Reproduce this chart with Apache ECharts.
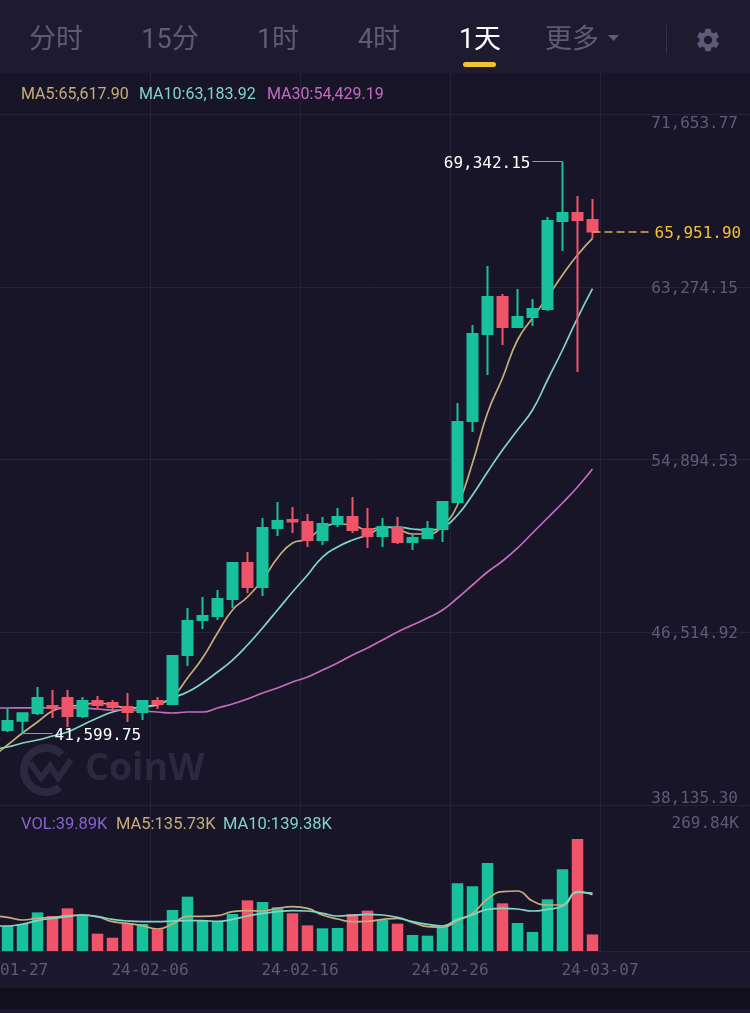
<!DOCTYPE html>
<html>
<head>
<meta charset="utf-8">
<style>
  html, body { margin: 0; padding: 0; background: #181528; }
  #chart { width: 750px; height: 1013px; }
</style>
<script src="https://cdn.jsdelivr.net/npm/echarts@6/dist/echarts.min.js"></script>
</head>
<body>
<div id="chart"></div>
<script>
// the first row is the day just left of the screen, only its MA lines reach the edge
const dates = [
  '24-01-27', '24-01-28', '24-01-29', '24-01-30', '24-01-31', '24-02-01', '24-02-02', '24-02-03', '24-02-04', '24-02-05',
  '24-02-06', '24-02-07', '24-02-08', '24-02-09', '24-02-10', '24-02-11', '24-02-12', '24-02-13', '24-02-14', '24-02-15',
  '24-02-16', '24-02-17', '24-02-18', '24-02-19', '24-02-20', '24-02-21', '24-02-22', '24-02-23', '24-02-24', '24-02-25',
  '24-02-26', '24-02-27', '24-02-28', '24-02-29', '24-03-01', '24-03-02', '24-03-03', '24-03-04', '24-03-05', '24-03-06',
  '24-03-07'
]
const dateTicks = ['24-01-27', '24-02-06', '24-02-16', '24-02-26', '24-03-07']
const priceTicks = [38135.30, 46514.92, 54894.53, 63274.15, 71653.77]
const volTopLabel = '269.84K'
const volAxisMax = 351.7

// open, close, low, high
const candles = [
  ['-', '-', '-', '-'],
  [41772.9, 42209.4, 41675.8, 42840.0],
  [42224.0, 42582.9, 41599.75, 42597.5],
  [42597.5, 43325.1, 42500.5, 43858.7],
  [42937.1, 42840.0, 42355.0, 43713.2],
  [43325.1, 42452.0, 41918.4, 43713.2],
  [42452.0, 43179.6, 42355.0, 43373.6],
  [43179.6, 42985.6, 42791.5, 43422.1],
  [43082.6, 42888.5, 42694.5, 43228.1],
  [42888.5, 42646.0, 42160.9, 43567.7],
  [42646.0, 43179.6, 42257.9, 43179.6],
  [43179.6, 43034.1, 42791.5, 43373.6],
  [43034.1, 45362.5, 42985.6, 45362.5],
  [45411.0, 47060.2, 44877.4, 47690.8],
  [47108.7, 47302.8, 46672.2, 48224.4],
  [47302.8, 48127.4, 47108.7, 48564.0],
  [48127.4, 49873.7, 47690.8, 49922.2],
  [49873.7, 48709.5, 48418.5, 50407.3],
  [48709.5, 51571.5, 48272.9, 52056.6],
  [51571.5, 51911.0, 51183.4, 52832.7],
  [51959.5, 51886.8, 51328.9, 52590.1],
  [51862.5, 50989.4, 50649.8, 52250.6],
  [50989.4, 51765.5, 50746.8, 52105.1],
  [51765.5, 52105.1, 51620.0, 52541.6],
  [52105.1, 51474.5, 51328.9, 53075.2],
  [51523.0, 51183.4, 50601.3, 52541.6],
  [51183.4, 51620.0, 50649.8, 52056.6],
  [51571.5, 50892.4, 50795.3, 52105.1],
  [50892.4, 51086.4, 50504.3, 51328.9],
  [51086.4, 51523.0, 51086.4, 51911.0],
  [51523.0, 52832.7, 50892.4, 52832.7],
  [52832.7, 56713.3, 52832.7, 57635.0],
  [56761.8, 60982.0, 56228.2, 61418.6],
  [60982.0, 62776.8, 58993.2, 64280.6],
  [62776.8, 61321.6, 60448.4, 62922.3],
  [61321.6, 61806.7, 61321.6, 63164.9],
  [61806.7, 62194.7, 61370.1, 62679.8],
  [62194.7, 66463.4, 62097.7, 66657.5],
  [66463.4, 66851.5, 65008.2, 69342.15],
  [66851.5, 66511.9, 59138.7, 67676.1],
  [66511.9, 65951.90, 65638.8, 67530.6]
]
const ma5 = [
  40463.1, 41045.2, 41627.3, 42160.9, 42694.5, 42888.5, 42985.6, 43082.6, 42985.6, 42840.0,
  42888.5, 43034.1, 43373.6, 44295.3, 45265.4, 46478.1, 47593.8, 48224.4, 49049.1, 50116.2,
  50843.9, 51037.9, 51571.5, 51765.5, 51717.0, 51474.5, 51620.0, 51523.0, 51280.4, 51280.4,
  51668.5, 52687.2, 54724.5, 57149.9, 58847.7, 60691.0, 61758.1, 62776.8, 63844.0, 64814.2,
  65617.90
]
const ma10 = [
  40851.2, 40948.2, 41142.3, 41287.8, 41481.8, 41675.8, 42015.4, 42355.0, 42646.0, 42791.5,
  42888.5, 42985.6, 43325.1, 43616.2, 44052.7, 44586.3, 45168.4, 45896.0, 46720.7, 47593.8,
  48467.0, 49291.6, 50164.7, 50649.8, 50989.4, 51231.9, 51571.5, 51620.0, 51523.0, 51474.5,
  51620.0, 52202.1, 53172.2, 54287.9, 55355.1, 56325.3, 57295.4, 58750.7, 60205.9, 61758.1,
  63183.92
]
const ma30 = [
  42840.0, 42840.0, 42845.0, 42850.0, 42845.0, 42835.0, 42830.0, 42791.5, 42743.0, 42743.0,
  42694.5, 42646.0, 42597.5, 42646.0, 42646.0, 42840.0, 43034.1, 43276.6, 43567.7, 43810.2,
  44101.2, 44343.8, 44683.3, 45022.9, 45411.0, 45750.5, 46138.6, 46526.6, 46866.2, 47205.8,
  47593.8, 48175.9, 48806.5, 49437.1, 49970.7, 50601.3, 51328.9, 52056.6, 52784.2, 53560.3,
  54429.19
]
const volumes = [
  '-', 60.2, 65.0, 93.0, 84.3, 102.8, 84.3, 41.8, 32.0, 66.6,
  65.0, 52.2, 98.8, 130.9, 74.7, 70.7, 89.1, 122.0, 118.0, 105.2,
  90.8, 61.8, 54.6, 55.4, 89.1, 97.2, 74.7, 65.9, 38.5, 36.9,
  58.6, 163.0, 155.8, 212.0, 114.8, 67.5, 45.8, 124.5, 196.7, 269.84,
  39.89
]
const volMa5 = [
  85.1, 81.1, 74.7, 78.7, 81.1, 85.1, 86.7, 82.7, 70.7, 66.6,
  61.0, 53.0, 65.0, 83.5, 83.5, 85.1, 94.8, 97.2, 96.4, 102.8,
  106.8, 102.8, 86.7, 77.1, 70.7, 71.5, 76.3, 78.7, 69.1, 58.6,
  57.0, 73.1, 90.7, 125.3, 142.9, 144.5, 120.5, 110.8, 110.8, 142.9,
  135.73
]
const volMa10 = [
  60.2, 60.2, 65.0, 73.1, 78.7, 82.7, 86.7, 82.7, 76.3, 72.3,
  70.7, 70.7, 72.3, 73.1, 73.1, 71.5, 76.3, 84.3, 90.7, 94.8,
  97.2, 96.4, 90.7, 84.3, 85.9, 88.3, 86.7, 81.1, 70.7, 64.2,
  60.2, 76.3, 86.7, 100.4, 102.8, 101.2, 96.4, 100.4, 108.4, 141.3,
  139.38
]

const GREEN = '#17c19b'
const RED = '#ef5468'
const GRID = '#262339'
const MUTED = '#5f5b76'
const MA5_C = '#c8ad7a'
const MA10_C = '#7fd6c5'
const MA30_C = '#c56cc0'
const MONO = "'DejaVu Sans Mono', monospace"
const SANS = "Roboto, 'Noto Sans CJK SC', sans-serif"

const fmt = v => v.toLocaleString('en-US', { minimumFractionDigits: 2, maximumFractionDigits: 2 })
const isTick = (i, v) => dateTicks.indexOf(v) >= 0
// no line on the screen edge itself
const isGridTick = (i, v) => dateTicks.indexOf(v) > 0
// band axis: one slot per day, tick axis: one point per slot edge
const bandData = dates.concat(new Array(10).fill(''))
const edgeData = [''].concat(dates, new Array(10).fill(''))

const idxHigh = 38, idxLow = 2, idxLast = 40

// gear icon
echarts.graphic.registerShape('gear', echarts.graphic.extendPath(
  'M19.14 12.94c.04-.3.06-.61.06-.94 0-.32-.02-.64-.07-.94l2.03-1.58c.18-.14.23-.41.12-.61l-1.92-3.32c-.12-.22-.37-.29-.59-.22l-2.39.96c-.5-.38-1.03-.7-1.62-.94l-.36-2.54c-.04-.24-.24-.41-.48-.41h-3.84c-.24 0-.43.17-.47.41l-.36 2.54c-.59.24-1.13.57-1.62.94l-2.39-.96c-.22-.08-.47 0-.59.22L2.74 8.87c-.12.21-.08.47.12.61l2.03 1.58c-.05.3-.09.63-.09.94s.02.64.07.94l-2.03 1.58c-.18.14-.23.41-.12.61l1.92 3.32c.12.22.37.29.59.22l2.39-.96c.5.38 1.03.7 1.62.94l.36 2.54c.05.24.24.41.48.41h3.84c.24 0 .44-.17.47-.41l.36-2.54c.59-.24 1.13-.56 1.62-.94l2.39.96c.22.08.47 0 .59-.22l1.92-3.32c.12-.22.07-.47-.12-.61l-2.01-1.58zM12 15.6c-1.98 0-3.6-1.62-3.6-3.6s1.62-3.6 3.6-3.6 3.6 1.62 3.6 3.6-1.62 3.6-3.6 3.6z',
  {}
))

function text (str, x, y, size, color, align, family, weight) {
  return {
    type: 'text',
    z: 1,
    silent: true,
    style: {
      text: str, x: x, y: y, fill: color,
      font: (weight || 'normal') + ' ' + size + 'px ' + (family || SANS),
      align: align || 'left', verticalAlign: 'middle',
      textAlign: align || 'left', textVerticalAlign: 'middle'
    }
  }
}

function line (name, data, color, xIdx, yIdx) {
  return {
    name: name, type: 'line', data: data, xAxisIndex: xIdx, yAxisIndex: yIdx,
    smooth: true, showSymbol: false, silent: true, z: xIdx === 0 ? 2 : 4,
    lineStyle: { color: color, width: 1.7 }
  }
}

function leader (fromIdx, toIdx, value, label, color, dashed) {
  return [
    { coord: [fromIdx, value], lineStyle: { color: color, width: dashed ? 1.5 : 1, type: dashed ? [8, 4] : 'solid' } },
    { coord: [toIdx, value], label: { show: true, position: 'end', distance: 2, formatter: label, offset: [0, 2],
      color: dashed ? '#f2c230' : '#fff', fontFamily: MONO, fontSize: 16 } }
  ]
}

const option = {
  animation: false,
  backgroundColor: '#181528',
  graphic: [
    { type: 'rect', z: -1, silent: true, shape: { x: 0, y: 0, width: 750, height: 73 }, style: { fill: '#1e1b31' } },
    { type: 'rect', z: -1, silent: true, shape: { x: 0, y: 951, width: 750, height: 37 }, style: { fill: '#1c192f' } },
    { type: 'rect', z: -1, silent: true, shape: { x: 0, y: 988, width: 750, height: 21 }, style: { fill: '#110f1e' } },
    { type: 'rect', z: -1, silent: true, shape: { x: 0, y: 1009, width: 750, height: 4 }, style: { fill: '#1c192f' } },

    text('分时', 56, 41.5, 27, MUTED, 'center'),
    text('15分', 170, 41.5, 27, MUTED, 'center'),
    text('1时', 278, 41.5, 27, MUTED, 'center'),
    text('4时', 379, 41.5, 27, MUTED, 'center'),
    text('1天', 480, 41.5, 27, '#ffffff', 'center'),
    text('更多', 572, 41.5, 27, MUTED, 'center'),
    { type: 'polygon', z: 1, silent: true, shape: { points: [[608, 35], [619, 35], [613.5, 41]] }, style: { fill: MUTED } },
    { type: 'rect', z: 1, silent: true, shape: { x: 463, y: 62, width: 33, height: 5, r: 2.5 }, style: { fill: '#f2c230' } },
    { type: 'rect', z: 1, silent: true, shape: { x: 666, y: 25, width: 1, height: 29 }, style: { fill: '#34314a' } },
    { type: 'gear', z: 1, silent: true, x: 694, y: 26, scaleX: 1.17, scaleY: 1.17, style: { fill: MUTED } },

    text('MA5:' + fmt(ma5[ma5.length - 1]), 21, 95, 16, MA5_C),
    text('MA10:' + fmt(ma10[ma10.length - 1]), 139, 95, 16, MA10_C),
    text('MA30:' + fmt(ma30[ma30.length - 1]), 267, 95, 16, MA30_C),

    text('VOL:' + volumes[volumes.length - 1] + 'K', 21, 825, 16.5, '#8a5fd0'),
    text('MA5:' + volMa5[volMa5.length - 1] + 'K', 116, 825, 16.5, MA5_C),
    text('MA10:' + volMa10[volMa10.length - 1] + 'K', 223, 825, 16.5, MA10_C),
    text(volTopLabel, 739, 824, 16, MUTED, 'right', MONO),

    // watermark
    { type: 'arc', z: 1, silent: true, shape: { cx: 46, cy: 770, r: 22, startAngle: 0.9, endAngle: 5.5 }, style: { stroke: '#2b2840', fill: null, lineWidth: 8 } },
    { type: 'polyline', z: 1, silent: true, shape: { points: [[30, 763], [41, 778], [50, 766], [58, 778], [71, 760]] }, style: { stroke: '#2b2840', fill: null, lineWidth: 6 } },
    text('CoinW', 85, 769, 37.5, '#2b2840', 'left', "'Open Sans', sans-serif", 'bold')
  ],
  grid: [
    { left: -15, right: 0, top: 114, height: 691, outerBoundsMode: 'none' },
    { left: -15, right: 0, top: 805, height: 146, outerBoundsMode: 'none' },
    { left: -15, right: 0, top: 73, height: 41, outerBoundsMode: 'none' },
    // same scale as the price grid, the price labels sit 2px under their lines
    { left: -15, right: 0, top: 116, height: 691, outerBoundsMode: 'none' }
  ],
  xAxis: [
    { type: 'category', gridIndex: 0, data: bandData, show: false, position: 'top' },
    {
      type: 'category', gridIndex: 0, data: edgeData, boundaryGap: false, position: 'bottom',
      axisLine: { show: false }, axisTick: { show: false }, axisLabel: { show: false },
      splitLine: { show: true, interval: isGridTick, lineStyle: { color: GRID } }
    },
    { type: 'category', gridIndex: 1, data: bandData, show: false, position: 'top' },
    {
      type: 'category', gridIndex: 1, data: edgeData, boundaryGap: false, position: 'bottom',
      axisLine: { lineStyle: { color: GRID } }, axisTick: { show: false },
      axisLabel: {
        interval: isTick, color: MUTED, fontFamily: MONO, fontSize: 16, margin: 12,
        // the first label is pushed right a bit, so "01-27" stays readable
        formatter: v => (v === dateTicks[0] ? '  ' + v : v)
      },
      splitLine: { show: true, interval: isGridTick, lineStyle: { color: GRID } }
    },
    {
      type: 'category', gridIndex: 2, data: edgeData, boundaryGap: false, position: 'bottom',
      axisLine: { show: false }, axisTick: { show: false }, axisLabel: { show: false },
      splitLine: { show: true, interval: isGridTick, lineStyle: { color: GRID } }
    },
    { type: 'category', gridIndex: 3, data: bandData, show: false }
  ],
  yAxis: [
    {
      type: 'value', gridIndex: 0, position: 'right', scale: true,
      min: priceTicks[0], max: priceTicks[priceTicks.length - 1],
      axisLine: { show: false },
      axisTick: { show: false, customValues: priceTicks },
      axisLabel: { show: false },
      splitLine: { show: true, lineStyle: { color: GRID } }
    },
    { type: 'value', gridIndex: 1, min: 0, max: volAxisMax, show: false, splitLine: { show: false } },
    { type: 'value', gridIndex: 2, show: false, splitLine: { show: false } },
    {
      type: 'value', gridIndex: 3, position: 'right', scale: true,
      min: priceTicks[0], max: priceTicks[priceTicks.length - 1],
      axisLine: { show: false },
      axisTick: { show: false, customValues: priceTicks },
      axisLabel: {
        inside: true, margin: 12, color: MUTED, fontFamily: MONO, fontSize: 16,
        customValues: priceTicks, formatter: fmt,
        verticalAlignMinLabel: 'bottom', verticalAlignMaxLabel: 'top'
      },
      splitLine: { show: false }
    }
  ],
  series: [
    {
      type: 'candlestick', data: candles, xAxisIndex: 0, yAxisIndex: 0, barWidth: 10, z: 3, silent: true,
      itemStyle: { color: GREEN, color0: RED, borderColor: GREEN, borderColor0: RED, borderWidth: 2 },
      markLine: {
        silent: true, animation: false, symbol: ['none', 'none'],
        data: [
          leader(idxHigh, idxHigh - 2, candles[idxHigh][3], fmt(candles[idxHigh][3]), '#9a98a8'),
          leader(idxLow, idxLow + 2, candles[idxLow][2], fmt(candles[idxLow][2]), '#9a98a8'),
          leader(idxLast, idxLast + 4, candles[idxLast][1], fmt(candles[idxLast][1]), '#d8ae4a', true)
        ]
      }
    },
    line('MA5', ma5, MA5_C, 0, 0),
    line('MA10', ma10, MA10_C, 0, 0),
    line('MA30', ma30, MA30_C, 0, 0),
    {
      type: 'bar', data: volumes, xAxisIndex: 2, yAxisIndex: 1, barWidth: 11.5, silent: true, z: 3,
      itemStyle: { color: p => (candles[p.dataIndex][1] > candles[p.dataIndex][0] ? GREEN : RED) }
    },
    line('VolMA5', volMa5, MA5_C, 2, 1),
    line('VolMA10', volMa10, MA10_C, 2, 1)
  ]
}

const chart = echarts.init(document.getElementById('chart'), null, { renderer: 'canvas' })
chart.setOption(option)
</script>
</body>
</html>
